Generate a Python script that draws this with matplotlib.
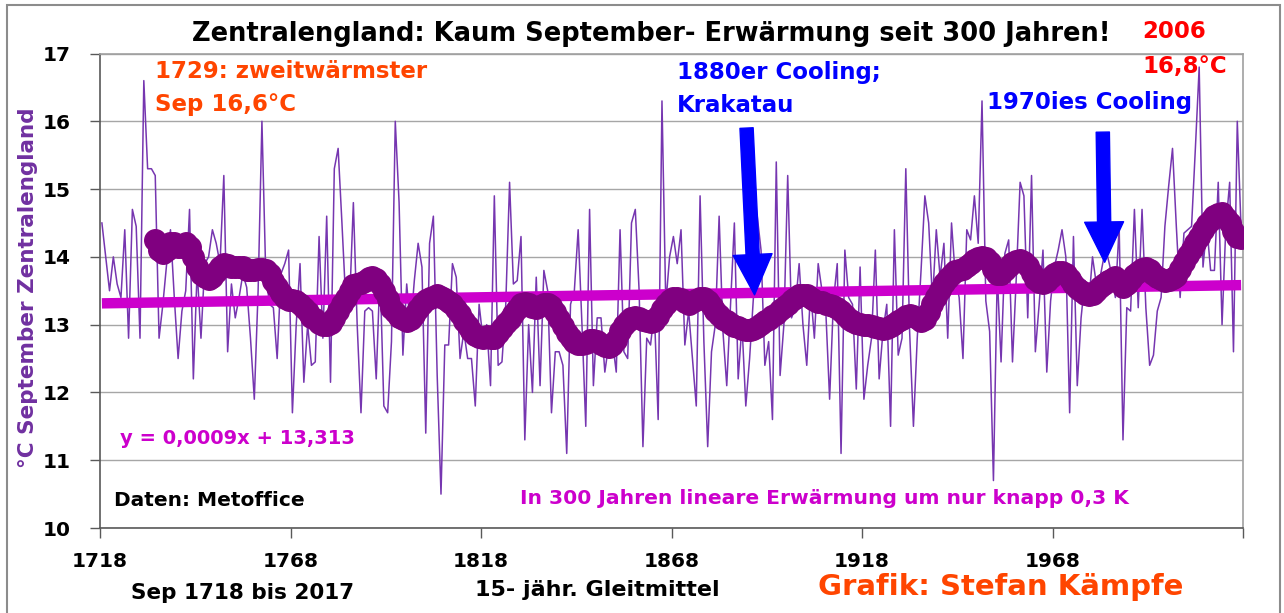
import matplotlib
matplotlib.use('Agg')
import matplotlib.pyplot as plt
import numpy as np
from matplotlib.patches import Rectangle

# ---------------- data ----------------
years = list(range(1718, 2018))
sep_temp = [
    14.5, 14.0, 13.5, 14.0, 13.6, 13.4, 14.4, 12.8, 14.7, 14.45,   # 1718-1727
    12.8, 16.6, 15.3, 15.3, 15.2, 12.8, 13.3, 13.9, 14.4, 13.4,    # 1728-1737
    12.5, 13.2, 13.5, 14.7, 12.2, 13.8, 12.8, 13.9, 14.0, 14.4,    # 1738-1747
    14.2, 13.9, 15.2, 12.6, 13.6, 13.1, 13.4, 13.75, 13.55, 12.8,  # 1748-1757
    11.9, 13.5, 16.0, 13.75, 13.3, 13.25, 12.5, 13.75, 13.9, 14.1, # 1758-1767
    11.7, 13.0, 13.9, 12.15, 13.0, 12.4, 12.45, 14.3, 12.8, 14.6,  # 1768-1777
    12.15, 15.3, 15.6, 14.5, 13.35, 13.3, 14.8, 13.0, 11.7, 13.2,  # 1778-1787
    13.25, 13.2, 12.2, 13.8, 11.8, 11.7, 12.75, 16.0, 14.8, 12.55, # 1788-1797
    13.6, 12.95, 13.65, 14.2, 13.85, 11.4, 14.2, 14.6, 12.25, 10.5,# 1798-1807
    12.7, 12.7, 13.9, 13.7, 12.5, 12.9, 12.5, 12.5, 11.8, 13.3,    # 1808-1817
    12.8, 13.0, 12.1, 14.9, 12.4, 12.45, 13.3, 15.1, 13.6, 13.65,  # 1818-1827
    14.3, 11.3, 13.0, 12.0, 13.7, 12.1, 13.8, 13.5, 11.7, 12.6,    # 1828-1837
    12.6, 12.4, 11.1, 13.3, 13.5, 14.4, 13.0, 11.5, 14.7, 12.1,    # 1838-1847
    13.1, 13.1, 12.3, 12.7, 12.75, 12.3, 14.4, 12.6, 12.5, 14.5,   # 1848-1857
    14.7, 13.5, 11.2, 12.8, 12.7, 13.2, 11.6, 16.3, 13.3, 14.0,    # 1858-1867
    14.3, 13.9, 14.4, 12.7, 13.2, 12.5, 11.8, 14.9, 12.75, 11.2,   # 1868-1877
    12.6, 13.0, 14.6, 12.9, 12.1, 13.3, 14.5, 12.2, 13.0, 11.8,    # 1878-1887
    12.5, 13.4, 14.6, 14.1, 12.4, 12.75, 11.6, 15.4, 12.25, 13.0,  # 1888-1897
    15.2, 13.1, 13.25, 13.9, 13.0, 12.4, 13.5, 12.8, 13.9, 13.5,   # 1898-1907
    13.2, 11.9, 13.35, 13.9, 11.1, 14.1, 13.4, 13.3, 12.05, 13.85, # 1908-1917
    11.9, 12.4, 12.8, 14.1, 12.2, 12.9, 13.3, 11.5, 14.4, 12.55,   # 1918-1927
    12.8, 15.3, 12.9, 11.5, 12.8, 13.8, 14.9, 14.5, 13.35, 14.4,   # 1928-1937
    13.7, 14.2, 12.8, 14.5, 13.7, 13.4, 12.5, 14.4, 14.25, 14.9,   # 1938-1947
    14.2, 16.3, 13.35, 12.9, 10.7, 13.75, 12.45, 14.05, 14.25, 12.45, # 1948-1957
    13.7, 15.1, 14.9, 13.1, 15.2, 12.6, 13.3, 14.1, 12.3, 13.35,   # 1958-1967
    13.85, 14.1, 14.4, 14.0, 11.7, 14.3, 12.1, 13.1, 13.65, 13.3,  # 1968-1977
    14.0, 13.6, 13.7, 14.0, 14.0, 13.75, 13.4, 14.45, 11.3, 13.25, # 1978-1987
    13.2, 14.7, 13.25, 14.7, 13.25, 12.4, 12.55, 13.2, 13.4, 14.45,# 1988-1997
    15.05, 15.6, 14.45, 13.4, 14.35, 14.4, 14.45, 15.6, 16.8, 13.85, # 1998-2007
    14.45, 13.8, 13.8, 15.1, 13.0, 14.45, 15.1, 12.6, 16.0, 14.4,  # 2008-2017
]

ma_years = list(range(1732, 2018))
ma15 = [
    14.25, 14.1, 14.05, 14.1, 14.2, 14.2, 14.15, 14.15, 14.2, 14.15,      # 1732-1741
    14.0, 13.85, 13.75, 13.7, 13.67, 13.7, 13.77, 13.85, 13.9, 13.88,     # 1742-1751
    13.85, 13.85, 13.85, 13.85, 13.8, 13.8, 13.8, 13.82, 13.82, 13.8,     # 1752-1761
    13.75, 13.65, 13.55, 13.47, 13.4, 13.37, 13.36, 13.35, 13.3, 13.25,   # 1762-1771
    13.18, 13.12, 13.08, 13.03, 13.0, 13.0, 13.03, 13.1, 13.2, 13.3,      # 1772-1781
    13.4, 13.5, 13.58, 13.6, 13.62, 13.65, 13.69, 13.7, 13.68, 13.6,      # 1782-1791
    13.5, 13.38, 13.25, 13.18, 13.12, 13.09, 13.06, 13.08, 13.14, 13.23,  # 1792-1801
    13.3, 13.36, 13.39, 13.41, 13.43, 13.41, 13.38, 13.33, 13.3, 13.23,   # 1802-1811
    13.15, 13.05, 12.98, 12.9, 12.85, 12.82, 12.8, 12.83, 12.8, 12.8,     # 1812-1821
    12.88, 12.95, 13.03, 13.08, 13.15, 13.23, 13.3, 13.32, 13.3, 13.26,   # 1822-1831
    13.25, 13.27, 13.3, 13.3, 13.28, 13.19, 13.09, 12.98, 12.88, 12.8,    # 1832-1841
    12.75, 12.72, 12.72, 12.73, 12.77, 12.78, 12.76, 12.72, 12.68, 12.67, # 1842-1851
    12.7, 12.78, 12.9, 13.0, 13.06, 13.1, 13.12, 13.1, 13.07, 13.05,      # 1852-1861
    13.04, 13.06, 13.13, 13.23, 13.3, 13.36, 13.4, 13.4, 13.38, 13.33,    # 1862-1871
    13.3, 13.33, 13.36, 13.39, 13.39, 13.35, 13.28, 13.2, 13.14, 13.09,   # 1872-1881
    13.05, 13.01, 12.98, 12.96, 12.93, 12.92, 12.92, 12.93, 12.97, 13.01, # 1882-1891
    13.05, 13.09, 13.13, 13.16, 13.21, 13.26, 13.31, 13.36, 13.4, 13.43,  # 1892-1901
    13.44, 13.43, 13.39, 13.36, 13.34, 13.33, 13.31, 13.29, 13.28, 13.25, # 1902-1911
    13.2, 13.14, 13.09, 13.05, 13.03, 13.01, 13.0, 13.0, 12.98, 12.97,    # 1912-1921
    12.95, 12.94, 12.95, 12.98, 13.01, 13.05, 13.09, 13.13, 13.14, 13.13, # 1922-1931
    13.1, 13.06, 13.08, 13.18, 13.3, 13.41, 13.51, 13.61, 13.69, 13.75,   # 1932-1941
    13.79, 13.81, 13.82, 13.86, 13.91, 13.96, 13.99, 14.0, 13.98, 13.92,  # 1942-1951
    13.82, 13.75, 13.75, 13.8, 13.86, 13.91, 13.94, 13.95, 13.92, 13.86,  # 1952-1961
    13.76, 13.68, 13.63, 13.62, 13.65, 13.7, 13.74, 13.77, 13.78, 13.74,  # 1962-1971
    13.67, 13.6, 13.54, 13.5, 13.45, 13.43, 13.45, 13.49, 13.55, 13.6,    # 1972-1981
    13.65, 13.68, 13.7, 13.64, 13.56, 13.6, 13.67, 13.73, 13.78, 13.82,   # 1982-1991
    13.83, 13.8, 13.75, 13.7, 13.67, 13.65, 13.66, 13.69, 13.72, 13.82,   # 1992-2001
    13.93, 14.03, 14.12, 14.2, 14.3, 14.4, 14.48, 14.55, 14.6, 14.63,     # 2002-2011
    14.65, 14.58, 14.5, 14.38, 14.3, 14.28,                               # 2012-2017
]

# linear trend as printed on the chart: y = 0,0009x + 13,313 (x = 1..300)
trend_slope = 0.0009
trend_intercept = 13.313

x_tick_years = [1718, 1768, 1818, 1868, 1918, 1968, 2018]
x_tick_labels = ['1718', '1768', '1818', '1868', '1918', '1968', '']
y_ticks = [10, 11, 12, 13, 14, 15, 16, 17]

# ---------------- figure ----------------
W, H = 1284, 613
plt.rcParams['font.family'] = ['DejaVu Sans']
plt.rcParams['font.weight'] = 'bold'
fig = plt.figure(figsize=(W / 100, H / 100), dpi=100)
fig.patch.set_facecolor('white')

def fx(px):
    return px / W

def fy(py):
    return 1 - py / H

ax_l, ax_r, ax_t, ax_b = 100, 1243, 53.5, 528
ax = fig.add_axes([fx(ax_l), fy(ax_b), (ax_r - ax_l) / W, (ax_b - ax_t) / H])

idx = np.arange(1, len(years) + 1)
trend = trend_intercept + trend_slope * idx

ax.plot(years, sep_temp, color='#7636B0', lw=1.1, zorder=2)
ax.plot(years, trend, color='#CC00CC', lw=7.5, solid_capstyle='butt', zorder=3)
ax.plot(ma_years, ma15, color='#800080', lw=9, marker='o', markersize=15.5,
        markerfacecolor='#800080', markeredgecolor='#800080',
        solid_joinstyle='round', solid_capstyle='round', zorder=4)

ax.set_xlim(1717.5, 2017.5)
ax.set_ylim(10, 17)
ax.set_xticks([y - 0.5 for y in x_tick_years])
ax.set_xticklabels(x_tick_labels)
ax.set_yticks(y_ticks)
ax.set_yticklabels([str(v) for v in y_ticks])
ax.tick_params(axis='x', direction='out', length=7, width=1, color='#595959',
               labelsize=14.5, pad=10)
ax.tick_params(axis='y', direction='out', length=7, width=1, color='#595959',
               labelsize=14.5, pad=14)
for lab in ax.get_xticklabels() + ax.get_yticklabels():
    lab.set_fontweight('bold')
ax.yaxis.grid(True, color='#A6A6A6', lw=1)
ax.set_axisbelow(True)
for side in ['top', 'right']:
    ax.spines[side].set_color('#A0A0A0')
    ax.spines[side].set_linewidth(1.2)
for side in ['left', 'bottom']:
    ax.spines[side].set_color('#595959')
    ax.spines[side].set_linewidth(1.2)

# arrows
blue = '#0000FF'
arrow_style = 'simple,head_length=29,head_width=28,tail_width=9.5'
ax.annotate('', xy=(1889.3, 13.44), xytext=(1887.2, 15.90),
            arrowprops=dict(arrowstyle=arrow_style, color=blue, shrinkA=0,
                            shrinkB=0, mutation_scale=1), zorder=6)
ax.annotate('', xy=(1981.2, 13.92), xytext=(1980.7, 15.84),
            arrowprops=dict(arrowstyle=arrow_style, color=blue, shrinkA=0,
                            shrinkB=0, mutation_scale=1), zorder=6)

# ---------------- texts ----------------
orange = '#FF4500'
magenta = '#CC00CC'

def ft(x, y, s, size, color='black', ha='left', **kw):
    fig.text(fx(x), fy(y), s, fontsize=size, color=color, ha=ha, va='center',
             fontweight='bold', **kw)

ft(651, 34, 'Zentralengland: Kaum September- Erwärmung seit 300 Jahren!', 18.5,
   ha='center')
ft(155, 72, '1729: zweitwärmster', 16.5, orange)
ft(155, 105, 'Sep 16,6°C', 16.5, orange)
ft(677, 72, '1880er Cooling;', 16.5, blue)
ft(677, 105, 'Krakatau', 16.5, blue)
ft(987, 103, '1970ies Cooling', 16.5, blue)
ft(1142, 32, '2006', 16.5, '#FF0000')
ft(1142, 66, '16,8°C', 16.5, '#FF0000')
ft(120, 438, 'y = 0,0009x + 13,313', 14, magenta)
ft(114, 501, 'Daten: Metoffice', 14.5)
ft(520, 498, 'In 300 Jahren lineare Erwärmung um nur knapp 0,3 K', 14.6, magenta)
ft(131, 593, 'Sep 1718 bis 2017', 15.5)
ft(475, 590, '15- jähr. Gleitmittel', 16)
ft(818, 587, 'Grafik: Stefan Kämpfe', 21, orange)
fig.text(fx(28), fy(288), '°C September Zentralengland', fontsize=15.5,
         color='#7030A0', rotation=90, ha='center', va='center',
         fontweight='bold')

# outer chart border
fig.add_artist(Rectangle((fx(7), -0.05), (1280 - 7) / W, fy(5) + 0.05,
                         transform=fig.transFigure, fill=False,
                         ec='#8C8C8C', lw=1.5))

fig.savefig('out.png', dpi=100, facecolor='white')
